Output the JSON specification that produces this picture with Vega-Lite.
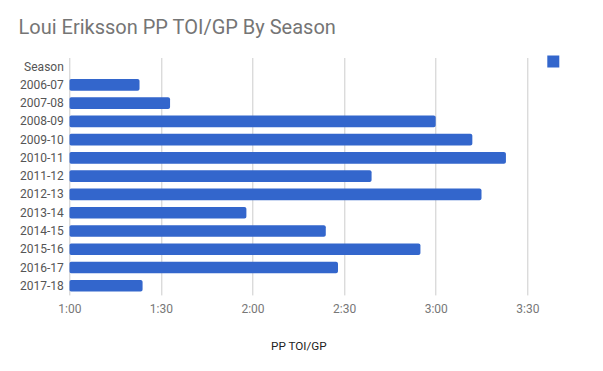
{
  "$schema": "https://vega.github.io/schema/vega-lite/v6.json",
  "autosize": {"type": "none"},
  "width": 458,
  "height": 237.4,
  "padding": {"left": 69.3, "top": 57.5, "right": 75.7, "bottom": 76.1},
  "background": "white",
  "title": {
    "text": "Loui Eriksson PP TOI/GP By Season",
    "anchor": "start",
    "frame": "group",
    "dx": -50.8,
    "dy": 18.5,
    "offset": 20,
    "baseline": "alphabetic",
    "font": "Roboto",
    "fontSize": 20,
    "fontWeight": "normal",
    "color": "#757575"
  },
  "data": {
    "values": [
      {"season": "2006-07", "seconds": 83, "series": ""},
      {"season": "2007-08", "seconds": 93, "series": ""},
      {"season": "2008-09", "seconds": 180, "series": ""},
      {"season": "2009-10", "seconds": 192, "series": ""},
      {"season": "2010-11", "seconds": 203, "series": ""},
      {"season": "2011-12", "seconds": 159, "series": ""},
      {"season": "2012-13", "seconds": 195, "series": ""},
      {"season": "2013-14", "seconds": 118, "series": ""},
      {"season": "2014-15", "seconds": 144, "series": ""},
      {"season": "2015-16", "seconds": 175, "series": ""},
      {"season": "2016-17", "seconds": 148, "series": ""},
      {"season": "2017-18", "seconds": 84, "series": ""}
    ]
  },
  "mark": {"type": "bar", "cornerRadius": 2, "clip": true},
  "encoding": {
    "y": {
      "field": "season",
      "type": "nominal",
      "scale": {
        "domain": ["Season", "2006-07", "2007-08", "2008-09", "2009-10", "2010-11", "2011-12", "2012-13", "2013-14", "2014-15", "2015-16", "2016-17", "2017-18"],
        "paddingInner": 0.36,
        "paddingOuter": 0.18
      },
      "axis": {
        "title": null,
        "domain": false,
        "ticks": false,
        "grid": false,
        "labelPadding": 6,
        "labelFont": "Roboto",
        "labelFontSize": 12,
        "labelColor": "#555555"
      }
    },
    "x": {
      "field": "seconds",
      "type": "quantitative",
      "stack": null,
      "scale": {"domain": [60, 210], "zero": false, "nice": false},
      "axis": {
        "title": "PP TOI/GP",
        "values": [60, 90, 120, 150, 180, 210],
        "labelExpr": "floor(datum.value/60) + ':' + (datum.value % 60 < 10 ? '0' : '') + (datum.value % 60)",
        "labelFlush": false,
        "labelOverlap": false,
        "domain": false,
        "ticks": false,
        "grid": true,
        "gridColor": "#cccccc",
        "gridWidth": 1,
        "labelPadding": 9,
        "labelFont": "Roboto",
        "labelFontSize": 12,
        "labelColor": "#777777",
        "titleFont": "Roboto",
        "titleFontSize": 11.7,
        "titleFontWeight": "normal",
        "titleColor": "#222222",
        "titleY": 54.4,
        "titleBaseline": "alphabetic",
        "titleAlign": "center"
      }
    },
    "color": {
      "field": "series",
      "type": "nominal",
      "scale": {"range": ["#3366cc"]},
      "legend": {
        "title": null,
        "orient": "none",
        "legendX": 478,
        "legendY": -2,
        "symbolType": "square",
        "symbolSize": 144,
        "symbolStrokeWidth": 0,
        "labelFontSize": 12
      }
    }
  },
  "config": {"view": {"stroke": null}}
}
